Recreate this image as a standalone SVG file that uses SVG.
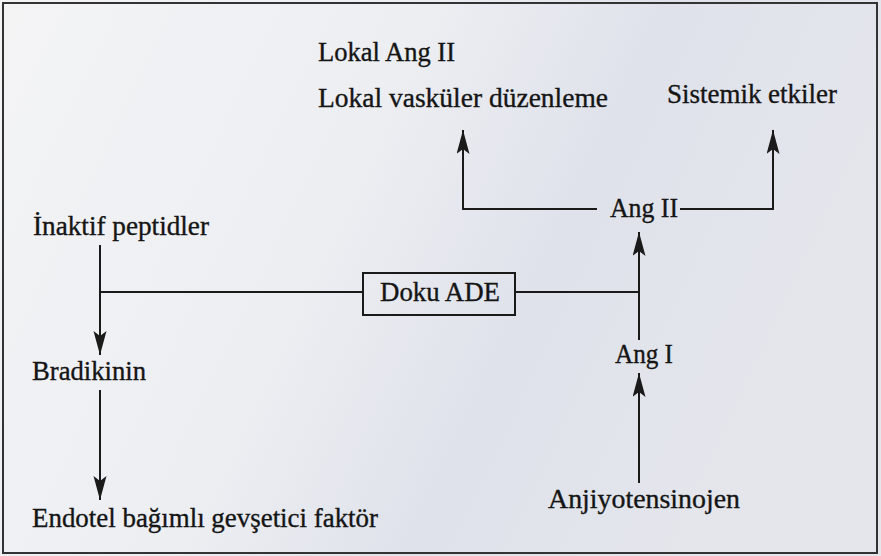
<svg xmlns="http://www.w3.org/2000/svg" width="881" height="556" viewBox="0 0 881 556">
<style>
.t{font-family:"Liberation Serif","Times New Roman",serif;font-size:27px;fill:#151515;stroke:#151515;stroke-width:0.35}
.c{fill:none;stroke:#1a1a1a;stroke-width:2}
</style>
<defs>
<linearGradient id="bg" x1="0" y1="0" x2="1" y2="0.3">
<stop offset="0" stop-color="#f4f4f5"/>
<stop offset="0.45" stop-color="#eceef2"/>
<stop offset="0.7" stop-color="#dfe2ea"/>
<stop offset="1" stop-color="#e4e6ec"/>
</linearGradient>
<marker id="ah" markerUnits="userSpaceOnUse" markerWidth="26" markerHeight="14" refX="24" refY="6.5" orient="auto">
<path d="M0,0 L24,6.5 L0,13 L5,6.5 z" fill="#1a1a1a"/>
</marker>
</defs>
<rect x="0" y="0" width="881" height="556" fill="url(#bg)"/>
<rect x="3" y="3" width="874" height="550" fill="none" stroke="#333" stroke-width="2"/>
<g id="connectors">
<path class="c" d="M597,209 H463 V130" marker-end="url(#ah)"/>
<path class="c" d="M680,209 H773 V130" marker-end="url(#ah)"/>
<path class="c" d="M639,340 V232" marker-end="url(#ah)"/>
<path class="c" d="M515,292 H639"/>
<path class="c" d="M639,483 V373" marker-end="url(#ah)"/>
<path class="c" d="M363,292 H100"/>
<path class="c" d="M100,245 V355" marker-end="url(#ah)"/>
<path class="c" d="M100,390 V500" marker-end="url(#ah)"/>
</g>
<g id="lokal-ang-ii"><text class="t" x="318" y="61" textLength="137" lengthAdjust="spacingAndGlyphs">Lokal Ang II</text></g>
<g id="lokal-vaskuler"><text class="t" x="318" y="107" textLength="290" lengthAdjust="spacingAndGlyphs">Lokal vasküler düzenleme</text></g>
<g id="sistemik"><text class="t" x="667" y="103" textLength="170" lengthAdjust="spacingAndGlyphs">Sistemik etkiler</text></g>
<g id="ang-ii"><text class="t" x="610" y="217" textLength="68" lengthAdjust="spacingAndGlyphs">Ang II</text></g>
<g id="inaktif"><text class="t" x="33" y="235" textLength="176" lengthAdjust="spacingAndGlyphs">İnaktif peptidler</text></g>
<g id="doku-ade"><rect x="363" y="273" width="152" height="42" fill="none" stroke="#1a1a1a" stroke-width="2"/><text class="t" x="380" y="301" textLength="120" lengthAdjust="spacingAndGlyphs">Doku ADE</text></g>
<g id="ang-i"><text class="t" x="615" y="363" textLength="58" lengthAdjust="spacingAndGlyphs">Ang I</text></g>
<g id="bradikinin"><text class="t" x="32" y="380" textLength="114" lengthAdjust="spacingAndGlyphs">Bradikinin</text></g>
<g id="anjiyotensinojen"><text class="t" x="548" y="508" textLength="192" lengthAdjust="spacingAndGlyphs">Anjiyotensinojen</text></g>
<g id="endotel"><text class="t" x="32" y="527" textLength="346" lengthAdjust="spacingAndGlyphs">Endotel bağımlı gevşetici faktör</text></g>
</svg>
